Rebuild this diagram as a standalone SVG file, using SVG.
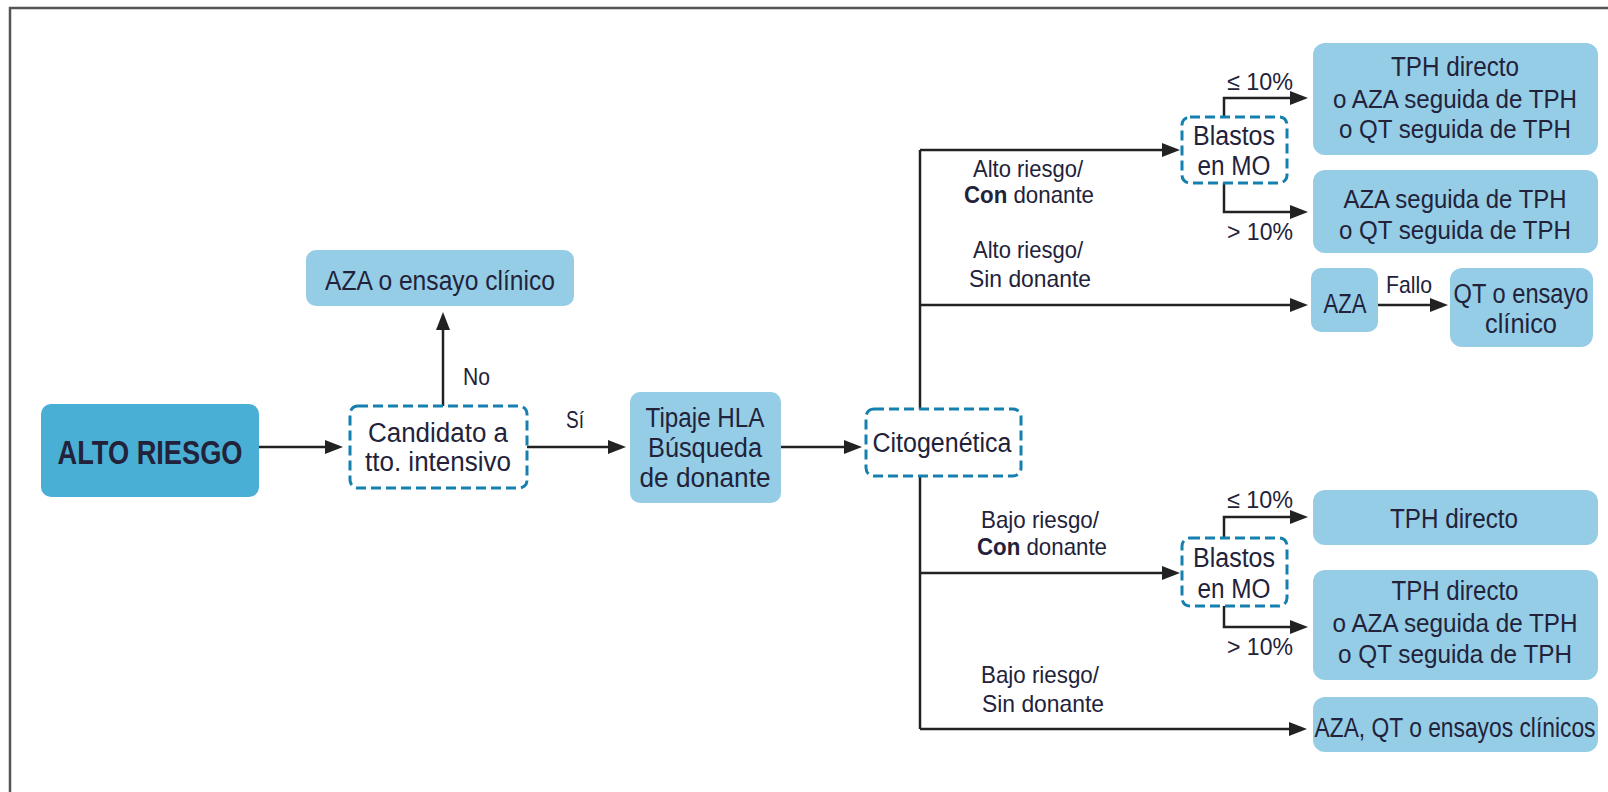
<svg xmlns="http://www.w3.org/2000/svg" width="1608" height="792" viewBox="0 0 1608 792">
<defs>
<style>
.frame{fill:none;stroke:#555;stroke-width:2.5}
.box{fill:#95cde6}
.dark{fill:#4aafd4}
.dash{fill:#fff;stroke:#1580b0;stroke-width:3;stroke-dasharray:10 5}
.c{fill:none;stroke:#222;stroke-width:2.5}
.ca{fill:none;stroke:#222;stroke-width:2.5;marker-end:url(#ah)}
text{font-family:"Liberation Sans Narrow","Liberation Sans",Arial,sans-serif;fill:#22223a}
.t{font-size:27px;text-anchor:middle}
.s{font-size:25px}
.l{font-size:24px}
.lm{font-size:24px;text-anchor:middle}
.big{font-size:34px;font-weight:bold;text-anchor:middle}
</style>
<marker id="ah" markerWidth="18" markerHeight="14" refX="12" refY="7" orient="auto" markerUnits="userSpaceOnUse">
<path d="M0,0 L18,7 L0,14 z" fill="#222"/>
</marker>
</defs>
<rect width="1608" height="792" fill="#fff"/>
<rect class="frame" x="10" y="8" width="1640" height="820"/>

<g id="connectors">
<path class="ca" d="M259,447 H337"/>
<path class="ca" d="M443,406 V318"/>
<path class="ca" d="M527,447 H620"/>
<path class="ca" d="M781,447 H856"/>
<path class="c" d="M920,150 V729"/>
<path class="ca" d="M920,150 H1174"/>
<path class="ca" d="M920,305 H1302"/>
<path class="ca" d="M920,573 H1174"/>
<path class="ca" d="M920,729 H1301"/>
<path class="ca" d="M1224,117 V98 H1302"/>
<path class="ca" d="M1224,183 V212 H1302"/>
<path class="ca" d="M1224,538 V517 H1302"/>
<path class="ca" d="M1224,606 V627 H1302"/>
<path class="ca" d="M1378,305 H1442"/>
</g>

<g id="labels">
<text class="l" x="463" y="385" textLength="27" lengthAdjust="spacingAndGlyphs">No</text>
<text class="l" x="566" y="428" textLength="18" lengthAdjust="spacingAndGlyphs">Sí</text>
<text class="lm" x="1028" y="177" textLength="110" lengthAdjust="spacingAndGlyphs">Alto riesgo/</text>
<text class="lm" x="1029" y="203" textLength="130" lengthAdjust="spacingAndGlyphs"><tspan font-weight="bold">Con</tspan> donante</text>
<text class="lm" x="1028" y="258" textLength="110" lengthAdjust="spacingAndGlyphs">Alto riesgo/</text>
<text class="lm" x="1030" y="287" textLength="122" lengthAdjust="spacingAndGlyphs">Sin donante</text>
<text class="lm" x="1040" y="528" textLength="118" lengthAdjust="spacingAndGlyphs">Bajo riesgo/</text>
<text class="lm" x="1042" y="555" textLength="130" lengthAdjust="spacingAndGlyphs"><tspan font-weight="bold">Con</tspan> donante</text>
<text class="lm" x="1040" y="683" textLength="118" lengthAdjust="spacingAndGlyphs">Bajo riesgo/</text>
<text class="lm" x="1043" y="712" textLength="122" lengthAdjust="spacingAndGlyphs">Sin donante</text>
<text class="l" x="1227" y="90" textLength="66" lengthAdjust="spacingAndGlyphs">≤ 10%</text>
<text class="l" x="1227" y="240" textLength="66" lengthAdjust="spacingAndGlyphs">&gt; 10%</text>
<text class="l" x="1227" y="508" textLength="66" lengthAdjust="spacingAndGlyphs">≤ 10%</text>
<text class="l" x="1227" y="655" textLength="66" lengthAdjust="spacingAndGlyphs">&gt; 10%</text>
<text class="l" x="1386" y="293" textLength="46" lengthAdjust="spacingAndGlyphs">Fallo</text>
</g>

<g id="alto-riesgo">
<rect class="dark" x="41" y="404" width="218" height="93" rx="10"/>
<text class="big" x="150" y="464" textLength="185" lengthAdjust="spacingAndGlyphs">ALTO RIESGO</text>
</g>

<g id="aza-ensayo">
<rect class="box" x="306" y="250" width="268" height="56" rx="10"/>
<text class="t" x="440" y="290" textLength="230" lengthAdjust="spacingAndGlyphs">AZA o ensayo clínico</text>
</g>

<g id="candidato">
<rect class="dash" x="350" y="406" width="177" height="82" rx="8"/>
<text class="t" x="438" y="442" textLength="140" lengthAdjust="spacingAndGlyphs">Candidato a</text>
<text class="t" x="438" y="471" textLength="146" lengthAdjust="spacingAndGlyphs">tto. intensivo</text>
</g>

<g id="tipaje">
<rect class="box" x="630" y="392" width="151" height="111" rx="10"/>
<text class="t" x="705" y="427" textLength="119" lengthAdjust="spacingAndGlyphs">Tipaje HLA</text>
<text class="t" x="705" y="457" textLength="114" lengthAdjust="spacingAndGlyphs">Búsqueda</text>
<text class="t" x="705" y="487" textLength="131" lengthAdjust="spacingAndGlyphs">de donante</text>
</g>

<g id="citogenetica">
<rect class="dash" x="866" y="409" width="155" height="67" rx="8"/>
<text class="t" x="942" y="452" textLength="139" lengthAdjust="spacingAndGlyphs">Citogenética</text>
</g>

<g id="blastos-alto">
<rect class="dash" x="1182" y="117" width="105" height="66" rx="8"/>
<text class="t" x="1234" y="145" textLength="82" lengthAdjust="spacingAndGlyphs">Blastos</text>
<text class="t" x="1234" y="175" textLength="73" lengthAdjust="spacingAndGlyphs">en MO</text>
</g>

<g id="blastos-bajo">
<rect class="dash" x="1182" y="538" width="105" height="68" rx="8"/>
<text class="t" x="1234" y="567" textLength="82" lengthAdjust="spacingAndGlyphs">Blastos</text>
<text class="t" x="1234" y="598" textLength="73" lengthAdjust="spacingAndGlyphs">en MO</text>
</g>

<g id="tph-1">
<rect class="box" x="1313" y="43" width="285" height="112" rx="12"/>
<text class="t" x="1455" y="76" textLength="128" lengthAdjust="spacingAndGlyphs">TPH directo</text>
<text class="t s" x="1455" y="108" textLength="244" lengthAdjust="spacingAndGlyphs">o AZA seguida de TPH</text>
<text class="t s" x="1455" y="138" textLength="232" lengthAdjust="spacingAndGlyphs">o QT seguida de TPH</text>
</g>

<g id="tph-2">
<rect class="box" x="1313" y="170" width="285" height="83" rx="12"/>
<text class="t s" x="1455" y="208" textLength="223" lengthAdjust="spacingAndGlyphs">AZA seguida de TPH</text>
<text class="t s" x="1455" y="239" textLength="232" lengthAdjust="spacingAndGlyphs">o QT seguida de TPH</text>
</g>

<g id="aza">
<rect class="box" x="1311" y="268" width="67" height="64" rx="10"/>
<text class="t" x="1345" y="313" textLength="43" lengthAdjust="spacingAndGlyphs">AZA</text>
</g>

<g id="qt-ensayo">
<rect class="box" x="1450" y="268" width="143" height="79" rx="12"/>
<text class="t" x="1521" y="303" font-size="24" textLength="135" lengthAdjust="spacingAndGlyphs">QT o ensayo</text>
<text class="t" x="1521" y="333" textLength="72" lengthAdjust="spacingAndGlyphs">clínico</text>
</g>

<g id="tph-3">
<rect class="box" x="1313" y="490" width="285" height="55" rx="12"/>
<text class="t" x="1454" y="528" textLength="128" lengthAdjust="spacingAndGlyphs">TPH directo</text>
</g>

<g id="tph-4">
<rect class="box" x="1313" y="570" width="285" height="110" rx="12"/>
<text class="t" x="1455" y="600" textLength="127" lengthAdjust="spacingAndGlyphs">TPH directo</text>
<text class="t s" x="1455" y="632" textLength="245" lengthAdjust="spacingAndGlyphs">o AZA seguida de TPH</text>
<text class="t s" x="1455" y="663" textLength="234" lengthAdjust="spacingAndGlyphs">o QT seguida de TPH</text>
</g>

<g id="aza-qt-ensayos">
<rect class="box" x="1313" y="697" width="285" height="55" rx="12"/>
<text class="t" x="1455" y="737" font-size="22" textLength="281" lengthAdjust="spacingAndGlyphs">AZA, QT o ensayos clínicos</text>
</g>
</svg>
